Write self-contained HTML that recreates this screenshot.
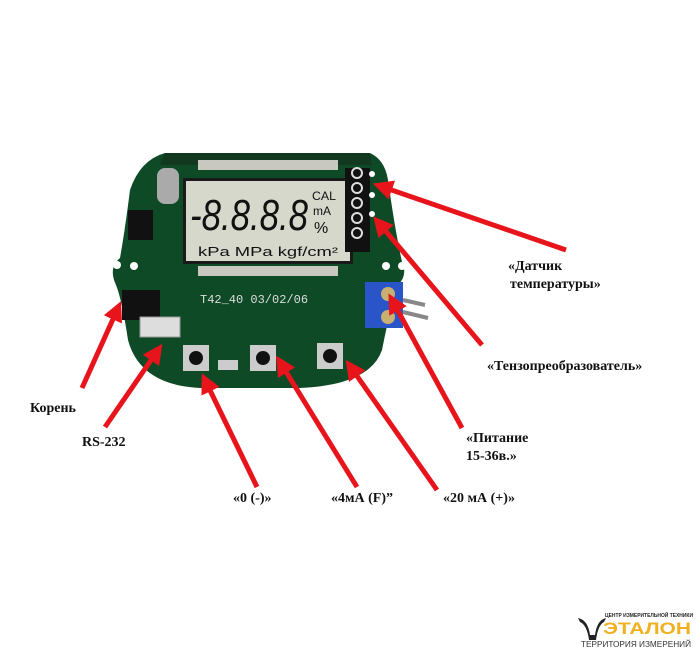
<!DOCTYPE html>
<html><head><meta charset="utf-8"><style>
body{margin:0;background:#fff;width:700px;height:652px;overflow:hidden}
svg{display:block}
.t{font-family:"Liberation Serif",serif;font-weight:bold;font-size:14px;fill:#111}
</style></head><body>
<svg width="700" height="652" viewBox="0 0 700 652" xmlns="http://www.w3.org/2000/svg">
<defs>
<marker id="ah" markerWidth="4" markerHeight="4" refX="2.5" refY="2" orient="auto" markerUnits="strokeWidth">
<path d="M0,0 L4,2 L0,4 z" fill="#e8141b"/></marker>
</defs>
<path d="M165,153 L370,153 Q385,160 388,180 Q395,230 402,262 Q408,275 398,285 Q392,300 382,350 Q370,385 300,388 L200,388 Q140,385 128,340 Q122,300 116,285 Q108,268 120,258 Q125,230 130,190 Q140,160 165,153 Z" fill="#0e4a26"/>
<path d="M165,153 L370,153 L372,165 L160,165 Z" fill="#123820"/>
<g fill="#c8c8c0">
<rect x="198" y="160" width="140" height="10"/>
<rect x="198" y="266" width="140" height="10"/>
</g>
<rect x="183" y="178" width="170" height="86" fill="#1a1a1a"/>
<rect x="186" y="181" width="164" height="80" fill="#d6d8cc"/>
<text x="190" y="230" font-family="Liberation Sans,sans-serif" font-size="44" font-style="italic" fill="#111" textLength="118" lengthAdjust="spacingAndGlyphs">-8.8.8.8</text>
<text x="312" y="200" font-family="Liberation Sans,sans-serif" font-size="12" fill="#111" textLength="24" lengthAdjust="spacingAndGlyphs">CAL</text>
<text x="313" y="215" font-family="Liberation Sans,sans-serif" font-size="12" fill="#111">mA</text>
<text x="314" y="233" font-family="Liberation Sans,sans-serif" font-size="16" fill="#111">%</text>
<text x="198" y="256" font-family="Liberation Sans,sans-serif" font-size="13" fill="#111" textLength="140" lengthAdjust="spacingAndGlyphs">kPa  MPa  kgf/cm²</text>
<rect x="157" y="168" width="22" height="36" rx="8" fill="#aaa"/>
<rect x="128" y="210" width="25" height="30" fill="#111"/>
<rect x="122" y="290" width="38" height="30" fill="#111"/>
<rect x="140" y="317" width="40" height="20" fill="#ddd" stroke="#999"/>
<rect x="345" y="168" width="25" height="84" fill="#111"/>
<g fill="none" stroke="#ddd" stroke-width="2">
<circle cx="357" cy="173" r="5"/><circle cx="357" cy="188" r="5"/><circle cx="357" cy="203" r="5"/><circle cx="357" cy="218" r="5"/><circle cx="357" cy="233" r="5"/>
</g>
<g fill="#fff">
<circle cx="117" cy="265" r="4"/><circle cx="134" cy="266" r="4"/>
<circle cx="386" cy="266" r="4"/><circle cx="402" cy="266" r="4"/>
<circle cx="372" cy="174" r="3"/><circle cx="372" cy="195" r="3"/><circle cx="372" cy="214" r="3"/>
</g>
<rect x="365" y="282" width="38" height="46" fill="#2a55c8"/>
<circle cx="388" cy="294" r="7" fill="#c9b070"/><circle cx="388" cy="317" r="7" fill="#c9b070"/>
<path d="M403,300 L425,305 M403,312 L428,318" stroke="#888" stroke-width="4"/>
<text x="200" y="303" font-family="Liberation Mono,monospace" font-size="12" fill="#ddd">T42_40  03/02/06</text>
<g fill="#ccc"><rect x="183" y="345" width="26" height="26"/><rect x="250" y="345" width="26" height="26"/><rect x="317" y="343" width="26" height="26"/></g>
<g fill="#111"><circle cx="196" cy="358" r="7"/><circle cx="263" cy="358" r="7"/><circle cx="330" cy="356" r="7"/></g>
<rect x="218" y="360" width="20" height="10" fill="#ccc"/>
<g stroke="#e8141b" stroke-width="5" fill="none" marker-end="url(#ah)">
<line x1="566" y1="250" x2="380" y2="186"/>
<line x1="482" y1="345" x2="378" y2="222"/>
<line x1="462" y1="428" x2="392" y2="300"/>
<line x1="437" y1="490" x2="350" y2="366"/>
<line x1="357" y1="487" x2="280" y2="362"/>
<line x1="257" y1="487" x2="205" y2="380"/>
<line x1="105" y1="427" x2="158" y2="350"/>
<line x1="82" y1="388" x2="118" y2="308"/>
</g>
<text class="t" x="508" y="270">«Датчик</text>
<text class="t" x="510" y="288">температуры»</text>
<text class="t" x="487" y="370">«Тензопреобразователь»</text>
<text class="t" x="466" y="442">«Питание</text>
<text class="t" x="466" y="460">15-36в.»</text>
<text class="t" x="443" y="502">«20 мА (+)»</text>
<text class="t" x="331" y="502">«4мА (F)”</text>
<text class="t" x="233" y="502">«0 (-)»</text>
<text class="t" x="82" y="446">RS-232</text>
<text class="t" x="30" y="412">Корень</text>
<path d="M578,618 Q588,620 590,635 L595,635 Q597,620 606,618 L604,622 Q598,625 596,640 L589,640 Q587,625 580,622Z" fill="#222"/>
<text x="605" y="617" font-family="Liberation Sans,sans-serif" font-weight="bold" font-size="5.5" fill="#222" textLength="88" lengthAdjust="spacingAndGlyphs">ЦЕНТР ИЗМЕРИТЕЛЬНОЙ ТЕХНИКИ</text>
<text x="603" y="634" font-family="Liberation Sans,sans-serif" font-weight="bold" font-size="17" fill="#f0b020" textLength="88" lengthAdjust="spacingAndGlyphs">ЭТАЛОН</text>
<text x="581" y="647" font-family="Liberation Sans,sans-serif" font-size="8" fill="#333" textLength="110" lengthAdjust="spacingAndGlyphs">ТЕРРИТОРИЯ ИЗМЕРЕНИЙ</text>
</svg>
</body></html>
